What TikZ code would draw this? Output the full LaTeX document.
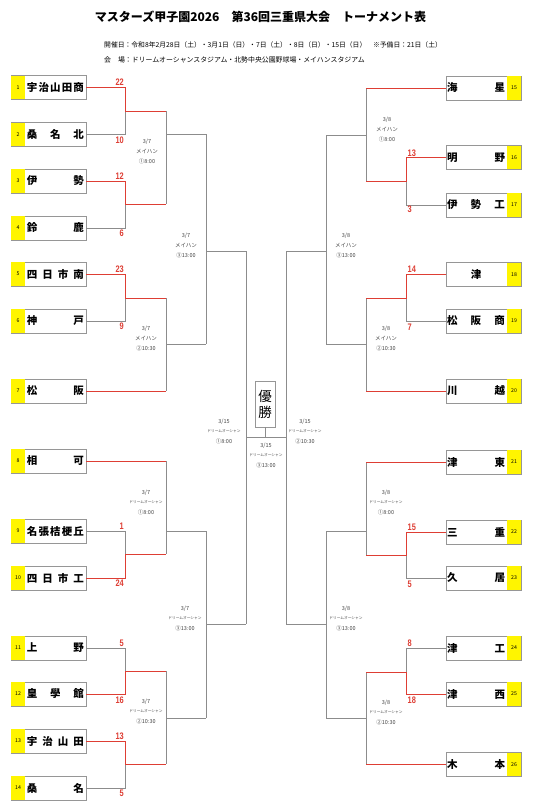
\documentclass[tikz,border=0pt]{standalone}
\usepackage{fontspec}
\usepackage{graphicx}
\setmainfont{Noto Sans CJK JP}
\newfontfamily\jpfont{Noto Sans CJK JP}
\newfontfamily\scorefont{Liberation Sans}
\definecolor{linegray}{RGB}{140,140,140}
\definecolor{linered}{RGB}{222,62,52}
\definecolor{boxgray}{RGB}{150,150,150}
\definecolor{lblgray}{RGB}{70,70,70}
\definecolor{teamyellow}{RGB}{255,245,0}
\tikzset{
  gl/.style={draw=linegray, line width=0.85pt},
  rl/.style={draw=linered, line width=1pt},
  tbox/.style={draw=boxgray, line width=0.9pt, fill=white, minimum width=75pt, minimum height=24pt, inner sep=0pt, outer sep=0pt},
  numtxt/.style={font=\jpfont\fontsize{5.2}{5.2}\selectfont, inner sep=0pt},
  nametxt/.style={font=\jpfont\bfseries\fontsize{10.5}{10.5}\selectfont, inner sep=0pt},
  scoretxt/.style={font=\scorefont\bfseries\fontsize{9.5}{9.5}\selectfont, text=linered, inner sep=0pt},
  rndtxt/.style={font=\jpfont\fontsize{5.5}{5.5}\selectfont, text=lblgray, inner sep=0pt},
  tinytxt/.style={font=\jpfont\fontsize{3.7}{3.7}\selectfont, text=lblgray, inner sep=0pt},
}
\newcommand\teamL[4]{%
  \node[tbox] (#1) at (48.5,#2) {};
  \fill[teamyellow] ([xshift=0.45pt,yshift=-0.45pt]#1.north west) rectangle ([xshift=14pt,yshift=0.45pt]#1.south west);
  \node[numtxt] (#1n) at ([xshift=7pt]#1.west) {#3};
  \node[nametxt] (#1t) at ([xshift=44.5pt]#1.west) {\makebox[57pt][s]{#4}};
}
\newcommand\teamR[4]{%
  \node[tbox] (#1) at (483.5,#2) {};
  \fill[teamyellow] ([xshift=-14pt,yshift=-0.45pt]#1.north east) rectangle ([xshift=-0.45pt,yshift=0.45pt]#1.south east);
  \node[numtxt] (#1n) at ([xshift=-7pt]#1.east) {#3};
  \node[nametxt] (#1t) at ([xshift=30pt]#1.west) {\makebox[58pt][s]{#4}};
}
% round label: name, x, y(top line), date, venue style, venue, time
\newcommand\rnd[7]{%
  \node[rndtxt] (#1a) at (#2,#3) {#4};
  \node[#5] (#1b) at (#2,#3+9.5) {#6};
  \node[rndtxt] (#1c) at (#2,#3+19.5) {#7};
}
\newcommand\scL[3]{\node[scoretxt, anchor=east] (#1) at (124,#2) {\scalebox{0.78}[1]{#3}};}
\newcommand\scR[3]{\node[scoretxt, anchor=west] (#1) at (407.5,#2) {\scalebox{0.78}[1]{#3}};}
\begin{document}
\begin{tikzpicture}[x=1pt,y=-1pt]
\useasboundingbox (0,0) rectangle (534,811);
\fill[white] (0,0) rectangle (534,811);

% ---- title and info ----
\node[font=\jpfont\bfseries\fontsize{12}{12}\selectfont, inner sep=0pt] (title) at (260.5,17) {マスターズ甲子園2026　第36回三重県大会　トーナメント表};
\node[font=\jpfont\fontsize{6.8}{6.8}\selectfont, inner sep=0pt, anchor=west] (info1) at (104,45) {開催日：令和8年2月28日（土）・3月1日（日）・7日（土）・8日（日）・15日（日）　※予備日：21日（土）};
\node[font=\jpfont\fontsize{6.9}{6.9}\selectfont, inner sep=0pt, anchor=west] (info2) at (104,60) {会　場：ドリームオーシャンスタジアム・北勢中央公園野球場・メイハンスタジアム};

% ---- teams ----
\teamL{t1}{87.5}{1}{宇\hfill 治\hfill 山\hfill 田\hfill 商}
\teamL{t2}{134.5}{2}{桑\hfill 名\hfill 北}
\teamL{t3}{181}{3}{伊\hfill 勢}
\teamL{t4}{228}{4}{鈴\hfill 鹿}
\teamL{t5}{274}{5}{四\hfill 日\hfill 市\hfill 南}
\teamL{t6}{321}{6}{神\hfill 戸}
\teamL{t7}{391}{7}{松\hfill 阪}
\teamL{t8}{461}{8}{相\hfill 可}
\teamL{t9}{531}{9}{名\hfill 張\hfill 桔\hfill 梗\hfill 丘}
\teamL{t10}{578}{10}{四\hfill 日\hfill 市\hfill 工}
\teamL{t11}{648}{11}{上\hfill 野}
\teamL{t12}{694}{12}{皇\hfill 學\hfill 館}
\teamL{t13}{741}{13}{宇\hfill 治\hfill 山\hfill 田}
\teamL{t14}{788}{14}{桑\hfill 名}
\teamR{t15}{88}{15}{海\hfill 星}
\teamR{t16}{157.5}{16}{明\hfill 野}
\teamR{t17}{205}{17}{伊\hfill 勢\hfill 工}
\teamR{t18}{274.5}{18}{\hfill 津\hfill}
\teamR{t19}{321}{19}{松\hfill 阪\hfill 商}
\teamR{t20}{391}{20}{川\hfill 越}
\teamR{t21}{462}{21}{津\hfill 東}
\teamR{t22}{532}{22}{三\hfill 重}
\teamR{t23}{578}{23}{久\hfill 居}
\teamR{t24}{648}{24}{津\hfill 工}
\teamR{t25}{694}{25}{津\hfill 西}
\teamR{t26}{764.5}{26}{木\hfill 本}

% ---- champion ----
\node[draw=boxgray, line width=0.8pt, minimum width=20pt, minimum height=46pt, inner sep=0pt, font=\jpfont\fontsize{13.5}{16}\selectfont, align=center] (champ) at (265,404) {優\\勝};

% ---- coordinates (left) ----
\coordinate (jA) at (125,111);   \coordinate (jAo) at (166,111);
\coordinate (jB) at (125,204);   \coordinate (jBo) at (166,204);
\coordinate (jC) at (125,298);   \coordinate (jCo) at (166,298);
\coordinate (j7) at (166,391);
\coordinate (j8) at (166,461);
\coordinate (jD) at (125,554);   \coordinate (jDo) at (166,554);
\coordinate (jE) at (125,671);   \coordinate (jEo) at (166,671);
\coordinate (jF) at (125,764);   \coordinate (jFo) at (166,764);
\coordinate (kA) at (166,134);   \coordinate (kAo) at (206,134);
\coordinate (kB) at (166,344);   \coordinate (kBo) at (206,344);
\coordinate (kC) at (166,531);   \coordinate (kCo) at (206,531);
\coordinate (kD) at (166,718);   \coordinate (kDo) at (206,718);
\coordinate (mA) at (206,251);   \coordinate (mAo) at (246,251);
\coordinate (mB) at (206,624);   \coordinate (mBo) at (246,624);
\coordinate (fL) at (246,437);   \coordinate (fR) at (286,437);
\coordinate (fC) at (265,437);
% ---- coordinates (right) ----
\coordinate (r15) at (366,88);
\coordinate (jG) at (406,181);   \coordinate (jGo) at (366,181);
\coordinate (jH) at (406,298);   \coordinate (jHo) at (366,298);
\coordinate (r20) at (366,391);
\coordinate (r21) at (366,462);
\coordinate (jI) at (406,555);   \coordinate (jIo) at (366,555);
\coordinate (jJ) at (406,672);   \coordinate (jJo) at (366,672);
\coordinate (r26) at (366,764.5);
\coordinate (kE) at (366,135);   \coordinate (kEo) at (326,135);
\coordinate (kF) at (366,344);   \coordinate (kFo) at (326,344);
\coordinate (kG) at (366,531);   \coordinate (kGo) at (326,531);
\coordinate (kH) at (366,718);   \coordinate (kHo) at (326,718);
\coordinate (mC) at (326,251);   \coordinate (mCo) at (286,251);
\coordinate (mD) at (326,624);   \coordinate (mDo) at (286,624);

% ---- gray lines ----
\draw[gl] (t2.east) -| (jA);
\draw[gl] (t4.east) -| (jB);
\draw[gl] (t6.east) -| (jC);
\draw[gl] (t9.east) -| (jD);
\draw[gl] (t11.east) -| (jE);
\draw[gl] (t14.east) -| (jF);
\draw[gl] (jAo) -- (jBo);  \draw[gl] (kA) -- (kAo);
\draw[gl] (jCo) -- (j7);   \draw[gl] (kB) -- (kBo);
\draw[gl] (j8) -- (jDo);   \draw[gl] (kC) -- (kCo);
\draw[gl] (jEo) -- (jFo);  \draw[gl] (kD) -- (kDo);
\draw[gl] (kAo) -- (kBo);  \draw[gl] (mA) -- (mAo);
\draw[gl] (kCo) -- (kDo);  \draw[gl] (mB) -- (mBo);
\draw[gl] (mAo) -- (mBo);
\draw[gl] (mCo) -- (mDo);
\draw[gl] (fL) -- (fR);
\draw[gl] (champ.south) -- (fC);
\draw[gl] (t17.west) -| (jG);
\draw[gl] (t19.west) -| (jH);
\draw[gl] (t23.west) -| (jI);
\draw[gl] (t24.west) -| (jJ);
\draw[gl] (r15) -- (jGo);  \draw[gl] (kE) -- (kEo);
\draw[gl] (jHo) -- (r20);  \draw[gl] (kF) -- (kFo);
\draw[gl] (r21) -- (jIo);  \draw[gl] (kG) -- (kGo);
\draw[gl] (jJo) -- (r26);  \draw[gl] (kH) -- (kHo);
\draw[gl] (kEo) -- (kFo);  \draw[gl] (mC) -- (mCo);
\draw[gl] (kGo) -- (kHo);  \draw[gl] (mD) -- (mDo);

% ---- red lines ----
\draw[rl] (t1.east) -| (jA) -- (jAo);
\draw[rl] (t3.east) -| (jB) -- (jBo);
\draw[rl] (t5.east) -| (jC) -- (jCo);
\draw[rl] (t7.east) -- (j7);
\draw[rl] (t8.east) -- (j8);
\draw[rl] (t10.east) -| (jD) -- (jDo);
\draw[rl] (t12.east) -| (jE) -- (jEo);
\draw[rl] (t13.east) -| (jF) -- (jFo);
\draw[rl] (t15.west) -- (r15);
\draw[rl] (t16.west) -| (jG) -- (jGo);
\draw[rl] (t18.west) -| (jH) -- (jHo);
\draw[rl] (t20.west) -- (r20);
\draw[rl] (t21.west) -- (r21);
\draw[rl] (t22.west) -| (jI) -- (jIo);
\draw[rl] (t25.west) -| (jJ) -- (jJo);
\draw[rl] (t26.west) -- (r26);

% ---- scores ----
\scL{s1}{82}{22}   \scL{s2}{140}{10}
\scL{s3}{176}{12}  \scL{s4}{233}{6}
\scL{s5}{269}{23}  \scL{s6}{326}{9}
\scL{s9}{526}{1}   \scL{s10}{583}{24}
\scL{s11}{643}{5}  \scL{s12}{700}{16}
\scL{s13}{736}{13} \scL{s14}{793}{5}
\scR{s16}{153}{13} \scR{s17}{209}{3}
\scR{s18}{269}{14} \scR{s19}{327}{7}
\scR{s22}{527}{15} \scR{s23}{584}{5}
\scR{s24}{643}{8}  \scR{s25}{700}{18}

% ---- round labels ----
\rnd{la}{147}{142}{3/7}{rndtxt}{メイハン}{①8:00}
\rnd{lb}{146}{329}{3/7}{rndtxt}{メイハン}{②10:30}
\rnd{lc}{186}{236}{3/7}{rndtxt}{メイハン}{③13:00}
\rnd{ld}{146}{493}{3/7}{tinytxt}{ドリームオーシャン}{①8:00}
\rnd{le}{185}{609}{3/7}{tinytxt}{ドリームオーシャン}{③13:00}
\rnd{lf}{146}{702}{3/7}{tinytxt}{ドリームオーシャン}{②10:30}
\rnd{ra}{387}{120}{3/8}{rndtxt}{メイハン}{①8:00}
\rnd{rc}{346}{236}{3/8}{rndtxt}{メイハン}{③13:00}
\rnd{rb}{386}{329}{3/8}{rndtxt}{メイハン}{②10:30}
\rnd{rd}{386}{493}{3/8}{tinytxt}{ドリームオーシャン}{①8:00}
\rnd{re}{346}{609}{3/8}{tinytxt}{ドリームオーシャン}{③13:00}
\rnd{rf}{386}{703}{3/8}{tinytxt}{ドリームオーシャン}{②10:30}
\rnd{fa}{224}{422}{3/15}{tinytxt}{ドリームオーシャン}{①8:00}
\rnd{fb}{305}{422}{3/15}{tinytxt}{ドリームオーシャン}{②10:30}
\rnd{fc}{266}{446}{3/15}{tinytxt}{ドリームオーシャン}{③13:00}
\end{tikzpicture}
\end{document}
